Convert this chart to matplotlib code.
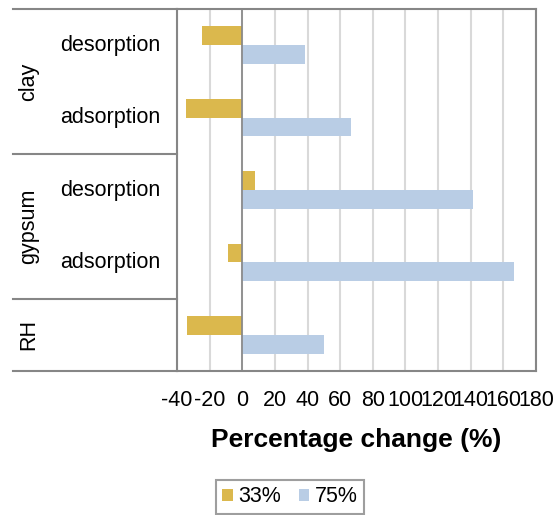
import matplotlib

matplotlib.use("Agg")

import matplotlib.pyplot as plt
import numpy as np
from matplotlib.lines import Line2D

plt.rcParams["font.family"] = ["Liberation Sans", "DejaVu Sans"]

groups = ["clay", "gypsum", "RH"]
group_sizes = [2, 2, 1]
sub_labels = ["desorption", "adsorption", "desorption", "adsorption", ""]
series_names = ["33%", "75%"]
values_33 = [-24.7, -34.7, 7.8, -8.8, -33.8]
values_75 = [38.3, 66.7, 141.2, 166.8, 50.2]
x_ticks = list(range(-40, 181, 20))

colors = ["#DBB84D", "#B9CDE5"]
frame_color = "#868686"
fs = 15.5

W, H = 559, 515
fig = plt.figure(figsize=(W / 100, H / 100), dpi=100)
ax_left, ax_right, ax_top, ax_bottom = 177, 536, 9, 371
ax = fig.add_axes([ax_left / W, 1 - ax_bottom / H, (ax_right - ax_left) / W, (ax_bottom - ax_top) / H])

y = np.arange(len(sub_labels))
bar_h = 0.26
ax.barh(y - bar_h / 2, values_33, height=bar_h, color=colors[0], label=series_names[0], zorder=3)
ax.barh(y + bar_h / 2, values_75, height=bar_h, color=colors[1], label=series_names[1], zorder=3)

ax.set_xlim(x_ticks[0], x_ticks[-1])
ax.set_ylim(len(sub_labels) - 0.5, -0.5)
ax.set_xticks(x_ticks)
ax.set_xticklabels([str(t) for t in x_ticks], fontsize=fs)
ax.tick_params(axis="x", length=0, pad=14)
ax.set_yticks([])
ax.grid(axis="x", color="#D9D9D9", linewidth=1.5, zorder=0)
ax.axvline(0, color=frame_color, linewidth=1.2, zorder=4)
for s in ax.spines.values():
    s.set_color(frame_color)
    s.set_linewidth(1.5)

ax.set_xlabel("Percentage change (%)", fontsize=19, fontweight="bold", labelpad=12)

# grouped category labels on the left
table_left = 13
fig_y = lambda py: 1 - py / H
row_h = (ax_bottom - ax_top) / len(sub_labels)
for i, lab in enumerate(sub_labels):
    if lab:
        fig.text(110 / W, fig_y(ax_top + (i + 0.5) * row_h), lab, fontsize=fs,
                 ha="center", va="center")

start = 0
for g, n in zip(groups, group_sizes):
    mid = ax_top + (start + n / 2) * row_h
    fig.text(29 / W, fig_y(mid), g, fontsize=fs, rotation=90, ha="center", va="center")
    start += n
    py = ax_top + start * row_h
    fig.add_artist(Line2D([table_left / W, ax_left / W], [fig_y(py), fig_y(py)],
                          color=frame_color, linewidth=1.5))
fig.add_artist(Line2D([table_left / W, ax_left / W], [fig_y(ax_top), fig_y(ax_top)],
                      color=frame_color, linewidth=1.5))

leg = fig.legend(loc="center", bbox_to_anchor=(290 / W, fig_y(497)), ncol=2, fontsize=fs,
                 frameon=True, fancybox=False, handlelength=0.5, handleheight=0.5,
                 handletextpad=0.25, columnspacing=0.8, borderpad=0.3)
leg.get_frame().set_edgecolor(frame_color)
leg.get_frame().set_linewidth(1.5)

fig.savefig("out.png", dpi=100)
